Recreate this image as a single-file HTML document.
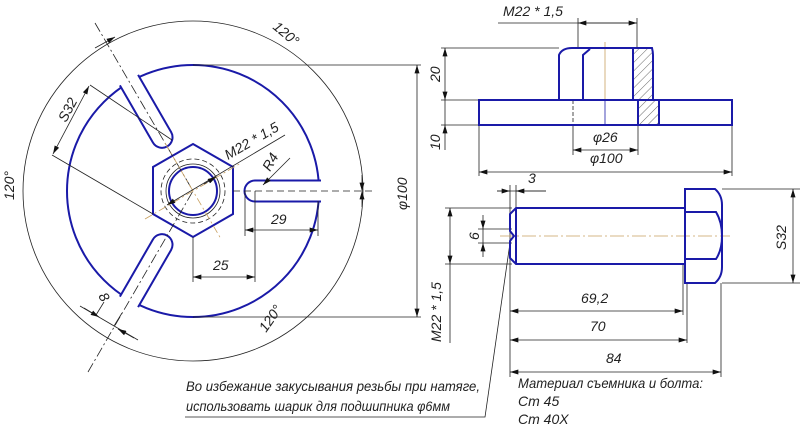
<!DOCTYPE html>
<html><head><meta charset="utf-8"><style>
html,body{margin:0;padding:0;background:#fff;}
svg{display:block;}
text{font-family:"Liberation Sans Narrow","Liberation Sans",sans-serif;font-style:italic;fill:#222;font-size:14px;}
</style></head><body>
<svg width="800" height="433" viewBox="0 0 800 433" xmlns="http://www.w3.org/2000/svg">
<defs>
<marker id="a" viewBox="0 0 10 6" refX="10" refY="3" markerWidth="10" markerHeight="5" orient="auto-start-reverse" markerUnits="userSpaceOnUse"><path d="M0,0 L10,3 L0,6z" fill="#111"/></marker>
<pattern id="h" width="6" height="6" patternUnits="userSpaceOnUse" patternTransform="rotate(45)"><line x1="0" y1="0" x2="0" y2="6" stroke="#444" stroke-width="0.8"/></pattern>
</defs>
<g fill="none" stroke="#222" stroke-width="0.8">
<circle cx="193" cy="191" r="170"/>
</g>
<circle cx="193" cy="191" r="126" fill="none" stroke="#1a1aa8" stroke-width="2"/>
<g stroke="#1a1aa8" stroke-width="2" fill="#fff">
<path d="M128,-10.5 L62,-10.5 A10.5,10.5 0 0 0 62,10.5 L128,10.5" transform="translate(193,191)"/>
<path d="M128,-10.5 L62,-10.5 A10.5,10.5 0 0 0 62,10.5 L128,10.5" transform="translate(193,191) rotate(-120)"/>
<path d="M128,-10.5 L62,-10.5 A10.5,10.5 0 0 0 62,10.5 L128,10.5" transform="translate(193,191) rotate(120)"/>
</g>
<polygon points="193,144 233,167 233,214 193,237 153,214 153,167" fill="none" stroke="#1a1aa8" stroke-width="2"/>
<circle cx="193" cy="191" r="24" fill="none" stroke="#1a1aa8" stroke-width="2"/>
<circle cx="193" cy="191" r="27" fill="none" stroke="#222" stroke-width="0.8"/>
<circle cx="193" cy="191" r="32" fill="none" stroke="#222" stroke-width="0.8" stroke-dasharray="5,3"/>
<g stroke="#222" stroke-width="0.8" fill="none">
<line x1="233" y1="191" x2="375" y2="191" stroke-dasharray="7,4"/>
<line x1="95" y1="23" x2="193" y2="191" stroke-dasharray="10,3,2,3"/>
<line x1="88" y1="372" x2="193" y2="191" stroke-dasharray="10,3,2,3"/>
<line x1="145" y1="219" x2="241" y2="163" stroke="#c8a060" stroke-dasharray="8,3,2,3"/>
<line x1="165" y1="143" x2="221" y2="239" stroke="#c8a060" stroke-dasharray="8,3,2,3"/>
<line x1="167" y1="205" x2="285" y2="135" marker-start="url(#a)"/>
<line x1="204" y1="184" x2="216" y2="177" marker-end="url(#a)"/>
<line x1="263" y1="185" x2="290" y2="158" marker-start="url(#a)"/>
<line x1="52" y1="155" x2="153" y2="214"/>
<line x1="90" y1="85" x2="172" y2="140"/>
<line x1="89" y1="86" x2="53" y2="154" marker-start="url(#a)" marker-end="url(#a)"/>
<line x1="80" y1="306" x2="138" y2="340"/>
<line x1="96" y1="315" x2="104" y2="302"/><line x1="114" y1="326" x2="122" y2="313"/>
<line x1="84" y1="308" x2="99" y2="317" marker-end="url(#a)"/>
<line x1="134" y1="338" x2="118" y2="329" marker-end="url(#a)"/>
<line x1="245" y1="191" x2="245" y2="236"/>
<line x1="318" y1="201" x2="318" y2="236"/>
<line x1="245" y1="230" x2="318" y2="230" marker-start="url(#a)" marker-end="url(#a)"/>
<line x1="193" y1="237" x2="193" y2="282"/>
<line x1="255" y1="191" x2="255" y2="282"/>
<line x1="193" y1="277" x2="255" y2="277" marker-start="url(#a)" marker-end="url(#a)"/>
<line x1="193" y1="65" x2="421" y2="65"/>
<line x1="193" y1="317" x2="421" y2="317"/>
<line x1="417" y1="65" x2="417" y2="317" marker-start="url(#a)" marker-end="url(#a)"/>
<line x1="362" y1="175" x2="362" y2="191" marker-end="url(#a)"/>
<line x1="362" y1="207" x2="362" y2="191" marker-end="url(#a)"/>
<line x1="95" y1="48" x2="115" y2="37" marker-end="url(#a)"/>
</g>
<text transform="translate(272,28) rotate(40)">120°</text>
<text transform="translate(14,200) rotate(-90)">120°</text>
<text transform="translate(266,333) rotate(-55)">120°</text>
<text transform="translate(66,123) rotate(-62)">S32</text>
<text transform="translate(228,160) rotate(-30)">M22 * 1,5</text>
<text transform="translate(270,172) rotate(-60)">R4</text>
<text x="271" y="224">29</text>
<text x="213" y="270">25</text>
<text transform="translate(98,296) rotate(60)">8</text>
<text transform="translate(407,210) rotate(-90)">φ100</text>

<g stroke="#222" stroke-width="0.8" fill="none">
<line x1="498" y1="23" x2="637" y2="23"/>
<line x1="578" y1="23" x2="637" y2="23" marker-start="url(#a)" marker-end="url(#a)"/>
<line x1="578" y1="18" x2="578" y2="48"/><line x1="637" y1="18" x2="637" y2="48"/>
<line x1="441" y1="48" x2="559" y2="48"/><line x1="441" y1="100" x2="479" y2="100"/><line x1="441" y1="125" x2="479" y2="125"/>
<line x1="445" y1="48" x2="445" y2="100" marker-start="url(#a)" marker-end="url(#a)"/>
<line x1="445" y1="150" x2="445" y2="125" marker-end="url(#a)"/>
<line x1="445" y1="125" x2="445" y2="100"/>
<line x1="573" y1="125" x2="573" y2="155"/><line x1="638" y1="125" x2="638" y2="155"/>
<line x1="573" y1="150" x2="638" y2="150" marker-start="url(#a)" marker-end="url(#a)"/>
<line x1="479" y1="125" x2="479" y2="176"/><line x1="732" y1="125" x2="732" y2="176"/>
<line x1="479" y1="172" x2="732" y2="172" marker-start="url(#a)" marker-end="url(#a)"/>
<line x1="605" y1="42" x2="605" y2="100" stroke="#c8a060"/>
<line x1="573" y1="100" x2="573" y2="125" stroke-dasharray="4,2"/>
<line x1="605" y1="100" x2="605" y2="125" stroke="#1a1aa8"/>
</g>
<rect x="633" y="48" width="20" height="52" fill="url(#h)"/>
<rect x="638" y="100" width="21" height="25" fill="url(#h)"/>
<g stroke="#1a1aa8" stroke-width="2" fill="none">
<path d="M559,100 L559,55 Q562,48 572,48 L652,48 Q653,52 653,55 L653,100"/>
<path d="M583,100 L583,55 L590,49"/>
<line x1="633" y1="48" x2="633" y2="100"/>
<rect x="479" y="100" width="253" height="25"/>
<line x1="638" y1="100" x2="638" y2="125"/><line x1="659" y1="100" x2="659" y2="125"/>
</g>
<text x="503" y="16">M22 * 1,5</text>
<text transform="translate(440,82) rotate(-90)">20</text>
<text transform="translate(440,150) rotate(-90)">10</text>
<text x="593" y="142">φ26</text>
<text x="590" y="163">φ100</text>

<g stroke="#222" stroke-width="0.8" fill="none">
<line x1="497" y1="191" x2="546" y2="191"/>
<line x1="497" y1="191" x2="510" y2="191" marker-end="url(#a)"/>
<line x1="546" y1="191" x2="516" y2="191" marker-end="url(#a)"/>
<line x1="510" y1="185" x2="510" y2="377"/><line x1="516" y1="185" x2="516" y2="210"/>
<line x1="445" y1="208" x2="512" y2="208"/><line x1="445" y1="264" x2="512" y2="264"/>
<line x1="450" y1="208" x2="450" y2="343" marker-start="url(#a)"/>
<line x1="450" y1="250" x2="450" y2="264" marker-end="url(#a)"/>
<line x1="478" y1="229" x2="512" y2="229"/><line x1="478" y1="243" x2="512" y2="243"/>
<line x1="483" y1="215" x2="483" y2="229" marker-end="url(#a)"/>
<line x1="483" y1="257" x2="483" y2="243" marker-end="url(#a)"/>
<line x1="483" y1="229" x2="483" y2="243"/>
<line x1="722" y1="189" x2="800" y2="189"/><line x1="722" y1="283" x2="800" y2="283"/>
<line x1="793" y1="189" x2="793" y2="283" marker-start="url(#a)" marker-end="url(#a)"/>
<line x1="683" y1="264" x2="683" y2="315"/><line x1="687" y1="283" x2="687" y2="343"/><line x1="721" y1="283" x2="721" y2="377"/>
<line x1="510" y1="311" x2="683" y2="311" marker-start="url(#a)" marker-end="url(#a)"/>
<line x1="510" y1="340" x2="687" y2="340" marker-start="url(#a)" marker-end="url(#a)"/>
<line x1="510" y1="372" x2="721" y2="372" marker-start="url(#a)" marker-end="url(#a)"/>
<line x1="500" y1="236" x2="730" y2="236" stroke="#c8a060" stroke-dasharray="14,3,2,3"/>
<polyline points="510,243 485,417 185,417"/>
</g>
<g stroke="#1a1aa8" stroke-width="2" fill="none">
<path d="M516,208 L685,208 L685,264 L516,264 L510,258 L510,241 L514,236 L510,231 L510,214 Z"/>
<line x1="516" y1="208" x2="516" y2="264"/>
<path d="M685,189 L715,189 Q722,195 722,205 L722,267 Q722,277 715,283 L685,283 Z"/>
<path d="M685,212 L716,212 Q722,222 722,236 Q722,250 716,259 L685,259"/>
</g>
<text x="528" y="183">3</text>
<text transform="translate(479,240) rotate(-90)">6</text>
<text transform="translate(441,342) rotate(-90)">M22 * 1,5</text>
<text transform="translate(786,250) rotate(-90)">S32</text>
<text x="581" y="303">69,2</text>
<text x="590" y="331">70</text>
<text x="606" y="363">84</text>
<text x="186" y="391" textLength="294" lengthAdjust="spacingAndGlyphs">Во избежание закусывания резьбы при натяге,</text>
<text x="186" y="411" textLength="264" lengthAdjust="spacingAndGlyphs">использовать шарик для подшипника φ6мм</text>
<text x="518" y="388" textLength="185" lengthAdjust="spacingAndGlyphs">Материал съемника и болта:</text>
<text x="518" y="406">Ст 45</text>
<text x="518" y="424">Ст 40Х</text>
</svg>
</body></html>
